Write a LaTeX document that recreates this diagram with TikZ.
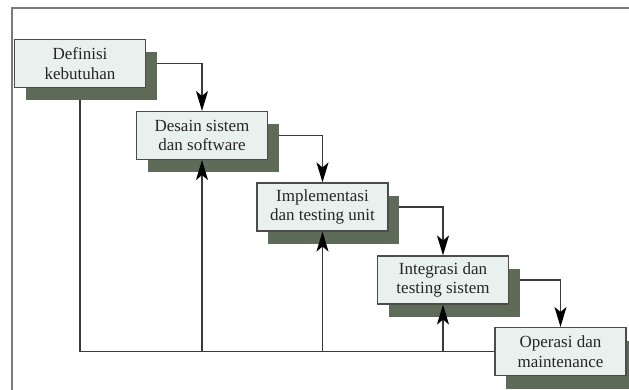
\documentclass[tikz,border=0pt]{standalone}
\usepackage{fontspec}
\setmainfont{Liberation Serif}
\usetikzlibrary{arrows.meta,shadows,calc}
\pgfdeclarelayer{back}
\pgfsetlayers{back,main}
\definecolor{boxfill}{HTML}{E9F1EE}
\definecolor{shadowc}{HTML}{5E6B58}
\definecolor{linec}{HTML}{3A3A3A}
\definecolor{framec}{HTML}{7A7A7A}
\begin{document}
\begin{tikzpicture}[x=1pt,y=-1pt,
  stage/.style={draw=black!70, line width=1.1pt, fill=boxfill,
    minimum width=131pt, minimum height=48pt, inner sep=0pt, align=center,
    font=\fontsize{17}{19.5}\selectfont, text=black!85,
    drop shadow={shadow xshift=11pt, shadow yshift=-13pt, fill=shadowc, opacity=1}},
  conn/.style={draw=linec, line width=1.5pt},
  tip/.style={-{Stealth[length=20pt,width=12pt,inset=5pt,black]}},
  frame/.style={draw=framec, line width=2pt}]
\useasboundingbox (0,0) rectangle (629,390);
\begin{pgfonlayer}{back}
\fill[white] (0,0) rectangle (629,390);
\end{pgfonlayer}
\draw[frame] (12,390) -- (12,8) -- (629,8);

\node[stage] (b1) at (80,63.5) {Definisi\\kebutuhan};
\node[stage] (b2) at (202,135.5) {Desain sistem\\dan software};
\node[stage] (b3) at (322.5,207) {Implementasi\\dan testing unit};
\node[stage] (b4) at (443,280) {Integrasi dan\\testing sistem};
\node[stage] (b5) at (560.5,351.5) {Operasi dan\\maintenance};

\coordinate (j1) at (b1.south |- b5.west);
\coordinate (j2) at (b2.south |- b5.west);
\coordinate (j3) at (b3.south |- b5.west);
\coordinate (j4) at (b4.south |- b5.west);

\begin{pgfonlayer}{back}
\draw[conn,tip] (b1.east) -| (b2.north);
\draw[conn,tip] (b2.east) -| (b3.north);
\draw[conn,tip] (b3.east) -| (b4.north);
\draw[conn,tip] (b4.east) -| (b5.north);
\draw[conn] (b1.south) -- (j1) -- (b5.west);
\end{pgfonlayer}

\draw[conn,tip] (j2) -- (b2.south);
\draw[conn,tip] (j3) -- (b3.south);
\draw[conn,tip] (j4) -- (b4.south);
\end{tikzpicture}
\end{document}
